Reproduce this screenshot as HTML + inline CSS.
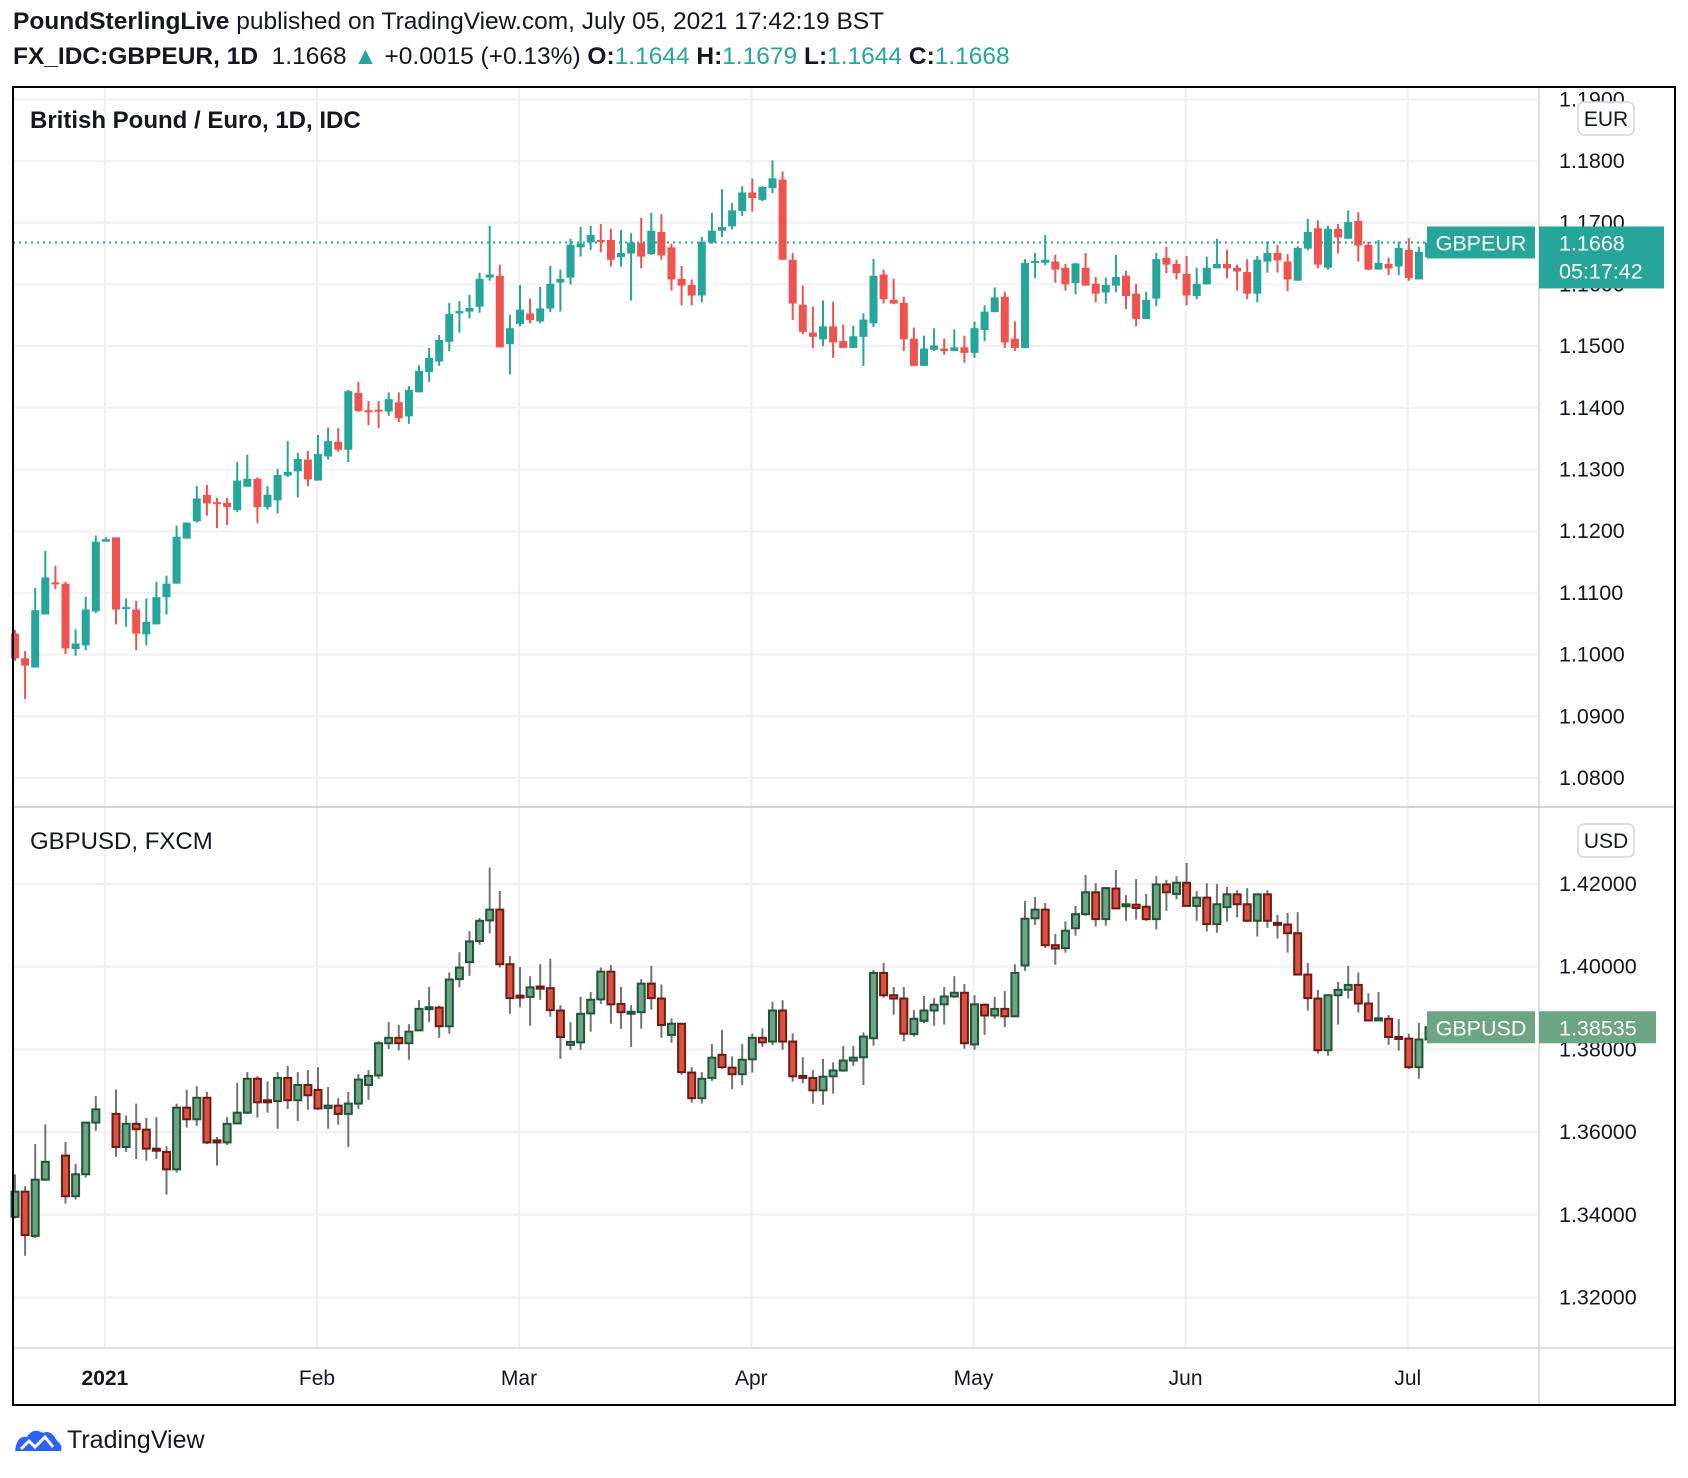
<!DOCTYPE html>
<html><head><meta charset="utf-8">
<style>
html,body{margin:0;padding:0;background:#fff;}
body{width:1688px;height:1478px;position:relative;overflow:hidden;font-family:"Liberation Sans",Arial,sans-serif;color:#131722;}
.hdr{position:absolute;left:13px;font-size:24.5px;white-space:nowrap;}
.t{color:#26a69a}
svg{position:absolute;left:0;top:0;}
</style></head><body>
<div class="hdr" style="top:8px"><b>PoundSterlingLive</b> published on TradingView.com, July 05, 2021 17:42:19 BST</div>
<div class="hdr" style="top:43px"><b>FX_IDC:GBPEUR, 1D</b>&nbsp; 1.1668 <span class="t">▲</span> +0.0015 (+0.13%) <b>O:</b><span class="t">1.1644</span> <b>H:</b><span class="t">1.1679</span> <b>L:</b><span class="t">1.1644</span> <b>C:</b><span class="t">1.1668</span></div>
<svg id="chart" width="1688" height="1478"></svg>
<div style="position:absolute;left:13px;top:1425px;font-size:25px;">
<svg width="50" height="30" style="position:relative;vertical-align:middle"><path d="M2 26 Q4 10 14 12 Q20 2 30 8 Q38 4 44 16 Q50 20 48 26 Z" fill="#2962ff"/><path d="M8 24 L16 16 L22 22 L32 12 L40 22" stroke="#fff" stroke-width="3" fill="none"/></svg><span style="margin-left:4px;vertical-align:middle">TradingView</span></div>
<script>
const eurOpen=[1.1034,1.0994,1.0979,1.1065,1.1117,1.1115,1.1009,1.1015,1.1070,1.1183,1.1190,1.1075,1.1073,1.1033,1.1049,1.1093,1.1115,1.1188,1.1216,1.1259,1.1247,1.1246,1.1234,1.1272,1.1285,1.1239,1.1250,1.1290,1.1297,1.1316,1.1282,1.1321,1.1345,1.1332,1.1424,1.1396,1.1397,1.1394,1.1409,1.1386,1.1425,1.1458,1.1475,1.1507,1.1553,1.1556,1.1564,
1.1611,1.1614,1.1503,1.1536,1.1553,1.1540,1.1561,1.1603,1.1611,1.1660,1.1668,1.1672,1.1672,1.1644,1.1650,1.1667,1.1649,1.1685,1.1660,1.1609,1.1599,1.1582,1.1668,1.1687,1.1694,1.1719,1.1749,1.1737,1.1756,1.1770,1.1640,1.1567,1.1522,1.1511,1.1532,1.1508,1.1497,1.1515,1.1537,1.1616,1.1575,1.1570,1.1512,1.1468,1.1494,1.1496,1.1492,1.1498,1.1489,1.1526,1.1555,1.1580,1.1512,1.1497,1.1635,1.1635,1.1637,1.1627,1.1602,1.1627,1.1601,1.1587,1.1598,1.1614,1.1585,1.1544,1.1577,1.1643,1.1633,1.1617,1.1581,1.1600,1.1626,1.1633,1.1627,1.1620,1.1585,1.1637,1.1651,1.1637,1.1606,1.1658,1.1691,1.1627,1.1690,1.1674,1.1703,1.1664,1.1624,1.1633,1.1629,1.1656,1.1608,1.1644];
const eurHigh=[1.1040,1.1006,1.1108,1.1168,1.1144,1.1118,1.1041,1.1094,1.1193,1.1190,1.1190,1.1091,1.1087,1.1091,1.1118,1.1128,1.1209,1.1214,1.1273,1.1275,1.1254,1.1254,1.1312,1.1324,1.1287,1.1273,1.1301,1.1346,1.1327,1.1330,1.1356,1.1368,1.1367,1.1429,1.1442,1.1411,1.1411,1.1425,1.1425,1.1435,1.1469,1.1497,1.1518,1.1570,1.1573,1.1583,1.1619,
1.1695,1.1632,1.1551,1.1599,1.1577,1.1596,1.1630,1.1624,1.1674,1.1693,1.1695,1.1698,1.1690,1.1688,1.1683,1.1708,1.1716,1.1714,1.1666,1.1630,1.1608,1.1677,1.1716,1.1754,1.1732,1.1759,1.1772,1.1759,1.1801,1.1783,1.1651,1.1598,1.1564,1.1574,1.1572,1.1535,1.1533,1.1553,1.1641,1.1624,1.1609,1.1580,1.1530,1.1517,1.1529,1.1512,1.1527,1.1517,1.1540,1.1566,1.1595,1.1588,1.1540,1.1641,1.1651,1.1680,1.1648,1.1633,1.1635,1.1651,1.1612,1.1611,1.1648,1.1622,1.1601,1.1588,1.1651,1.1661,1.1640,1.1646,1.1627,1.1645,1.1674,1.1656,1.1632,1.1641,1.1646,1.1670,1.1664,1.1649,1.1662,1.1706,1.1704,1.1695,1.1698,1.1720,1.1717,1.1669,1.1672,1.1643,1.1669,1.1675,1.1661,1.1679];
const eurLow=[1.0990,1.0928,1.0979,1.1065,1.1106,1.1001,1.0998,1.1007,1.1067,1.1183,1.1049,1.1045,1.1007,1.1015,1.1049,1.1065,1.1115,1.1188,1.1214,1.1225,1.1205,1.1210,1.1231,1.1272,1.1213,1.1235,1.1229,1.1288,1.1255,1.1273,1.1282,1.1316,1.1329,1.1312,1.1393,1.1372,1.1367,1.1387,1.1377,1.1374,1.1425,1.1442,1.1468,1.1492,1.1522,1.1545,1.1554,
1.1606,1.1498,1.1454,1.1532,1.1537,1.1537,1.1555,1.1556,1.1600,1.1645,1.1656,1.1652,1.1629,1.1629,1.1574,1.1626,1.1648,1.1640,1.1590,1.1566,1.1566,1.1571,1.1666,1.1677,1.1689,1.1711,1.1718,1.1735,1.1748,1.1640,1.1542,1.1519,1.1497,1.1500,1.1481,1.1497,1.1497,1.1468,1.1531,1.1569,1.1568,1.1492,1.1468,1.1468,1.1492,1.1486,1.1492,1.1473,1.1481,1.1508,1.1555,1.1497,1.1492,1.1497,1.1610,1.1631,1.1603,1.1590,1.1584,1.1598,1.1571,1.1569,1.1587,1.1560,1.1532,1.1544,1.1565,1.1618,1.1608,1.1566,1.1576,1.1600,1.1626,1.1610,1.1590,1.1576,1.1571,1.1619,1.1619,1.1589,1.1606,1.1655,1.1626,1.1624,1.1650,1.1674,1.1637,1.1623,1.1624,1.1615,1.1615,1.1606,1.1608,1.1644];
const eurClose=[1.0994,1.0982,1.1072,1.1125,1.1114,1.1010,1.1018,1.1073,1.1183,1.1187,1.1073,1.1077,1.1034,1.1053,1.1093,1.1115,1.1191,1.1214,1.1253,1.1245,1.1244,1.1239,1.1282,1.1285,1.1239,1.1259,1.1291,1.1296,1.1317,1.1284,1.1325,1.1346,1.1332,1.1427,1.1395,1.1393,1.1394,1.1414,1.1383,1.1429,1.1460,1.1481,1.1510,1.1552,1.1557,1.1562,1.1609,
1.1616,1.1498,1.1529,1.1559,1.1542,1.1561,1.1601,1.1609,1.1664,1.1666,1.1680,1.1669,1.1640,1.1651,1.1668,1.1645,1.1687,1.1647,1.1608,1.1598,1.1582,1.1669,1.1687,1.1693,1.1720,1.1749,1.1740,1.1758,1.1772,1.1640,1.1569,1.1523,1.1515,1.1532,1.1506,1.1497,1.1516,1.1543,1.1614,1.1576,1.1569,1.1511,1.1468,1.1496,1.1501,1.1492,1.1498,1.1489,1.1529,1.1556,1.1579,1.1506,1.1497,1.1635,1.1638,1.1640,1.1624,1.1600,1.1634,1.1598,1.1585,1.1599,1.1612,1.1581,1.1544,1.1575,1.1641,1.1632,1.1618,1.1582,1.1601,1.1627,1.1633,1.1626,1.1621,1.1585,1.1640,1.1651,1.1639,1.1608,1.1659,1.1685,1.1632,1.1690,1.1676,1.1701,1.1663,1.1624,1.1635,1.1626,1.1659,1.1610,1.1653,1.1668];
const usdOpen=[1.3395,1.3456,1.3349,1.3485,null,1.3543,1.3445,1.3498,1.3623,null,1.3644,1.3564,1.3620,1.3606,1.3560,1.3552,1.3510,1.3659,1.3631,1.3683,1.3580,1.3575,1.3621,1.3647,1.3729,1.3677,1.3675,1.3731,1.3677,1.3714,1.3702,1.3658,1.3664,1.3644,1.3669,1.3714,1.3737,1.3815,1.3828,1.3815,1.3846,1.3899,1.3901,1.3856,1.3970,1.4011,1.4062,1.4112,1.4138,1.4006,1.3930,1.3927,1.3952,1.3948,1.3894,1.3811,1.3817,1.3887,1.3921,1.3988,1.3910,1.3888,1.3890,1.3959,1.3923,1.3835,1.3862,1.3744,1.3682,1.3731,1.3787,1.3756,1.3740,1.3776,1.3828,1.3819,1.3894,1.3819,1.3736,1.3731,1.3701,1.3735,1.3749,1.3773,1.3781,1.3827,1.3985,1.3931,1.3923,1.3837,1.3869,1.3894,1.3909,1.3928,1.3937,1.3812,1.3908,1.3882,1.3898,1.3880,1.4003,1.4117,1.4138,1.4052,1.4045,1.4093,1.4127,1.4180,1.4115,1.4189,1.4146,1.4150,1.4145,1.4115,1.4199,1.4176,1.4203,1.4147,1.4167,1.4103,1.4144,1.4175,1.4151,1.4111,1.4175,1.4106,1.4102,1.4081,1.3981,1.3923,1.3798,1.3931,1.3944,1.3956,1.3911,1.3871,1.3874,1.3830,1.3826,1.3757,1.3824];
const usdHigh=[1.3498,1.3469,1.3571,1.3619,null,1.3576,1.3523,1.3623,1.3687,null,1.3703,1.3640,1.3669,1.3634,1.3636,1.3566,1.3669,1.3702,1.3711,1.3697,1.3588,1.3636,1.3719,1.3745,1.3735,1.3723,1.3745,1.3760,1.3745,1.3750,1.3757,1.3709,1.3682,1.3697,1.3740,1.3750,1.3820,1.3866,1.3859,1.3861,1.3919,1.3951,1.3906,1.3986,1.4035,1.4086,1.4118,1.4240,1.4183,1.4026,1.3999,1.3977,1.4006,1.4019,1.3907,1.3866,1.3927,1.3939,1.3998,1.4004,1.3951,1.3907,1.3970,1.4002,1.3957,1.3875,1.3862,1.3757,1.3745,1.3813,1.3847,1.3783,1.3813,1.3838,1.3851,1.3915,1.3919,1.3839,1.3781,1.3750,1.3777,1.3769,1.3808,1.3808,1.3841,1.3992,1.4009,1.3951,1.3951,1.3895,1.3929,1.3924,1.3951,1.3977,1.3958,1.3931,1.3911,1.3927,1.3941,1.4006,1.4159,1.4169,1.4154,1.4079,1.4110,1.4147,1.4222,1.4202,1.4193,1.4234,1.4173,1.4212,1.4176,1.4219,1.4210,1.4219,1.4251,1.4183,1.4202,1.4200,1.4193,1.4185,1.4190,1.4177,1.4185,1.4125,1.4130,1.4132,1.4009,1.3944,1.3933,1.3963,1.4002,1.3986,1.3936,1.3939,1.3883,1.3873,1.3838,1.3864,1.3870];
const usdLow=[1.3391,1.3301,1.3344,1.3482,null,1.3427,1.3437,1.3490,1.3603,null,1.3540,1.3552,1.3535,1.3531,1.3535,1.3449,1.3502,1.3611,1.3615,1.3571,1.3519,1.3569,1.3621,1.3644,1.3635,1.3647,1.3608,1.3656,1.3627,1.3654,1.3654,1.3608,1.3618,1.3564,1.3656,1.3678,1.3729,1.3801,1.3798,1.3775,1.3846,1.3866,1.3828,1.3838,1.3950,1.3978,1.4053,1.4080,1.3998,1.3886,1.3902,1.3857,1.3920,1.3879,1.3777,1.3799,1.3799,1.3843,1.3910,1.3862,1.3850,1.3806,1.3850,1.3896,1.3828,1.3816,1.3739,1.3671,1.3669,1.3724,1.3753,1.3704,1.3714,1.3744,1.3806,1.3810,1.3799,1.3722,1.3718,1.3669,1.3666,1.3693,1.3746,1.3760,1.3714,1.3809,1.3925,1.3884,1.3820,1.3831,1.3863,1.3857,1.3860,1.3925,1.3802,1.3799,1.3835,1.3874,1.3854,1.3880,1.3990,1.4101,1.4045,1.4005,1.4034,1.4075,1.4123,1.4097,1.4099,1.4141,1.4111,1.4114,1.4111,1.4090,1.4135,1.4163,1.4147,1.4111,1.4085,1.4082,1.4109,1.4119,1.4109,1.4073,1.4094,1.4068,1.4034,1.3981,1.3894,1.3790,1.3785,1.3860,1.3923,1.3889,1.3870,1.3871,1.3811,1.3797,1.3752,1.3729,1.3815];
const usdClose=[1.3456,1.3351,1.3485,1.3528,null,1.3445,1.3498,1.3623,1.3655,null,1.3564,1.3620,1.3607,1.3560,1.3555,1.3510,1.3659,1.3631,1.3683,1.3575,1.3575,1.3620,1.3647,1.3729,1.3672,1.3672,1.3731,1.3677,1.3714,1.3689,1.3657,1.3664,1.3644,1.3669,1.3727,1.3736,1.3815,1.3828,1.3815,1.3843,1.3898,1.3902,1.3856,1.3969,1.3998,1.4061,1.4111,1.4138,1.4006,1.3924,1.3926,1.3950,1.3947,1.3895,1.3830,1.3818,1.3886,1.3920,1.3988,1.3909,1.3890,1.3891,1.3959,1.3924,1.3859,1.3862,1.3745,1.3682,1.3729,1.3780,1.3757,1.3740,1.3775,1.3828,1.3817,1.3894,1.3819,1.3735,1.3731,1.3701,1.3734,1.3749,1.3773,1.3780,1.3831,1.3985,1.3931,1.3923,1.3838,1.3874,1.3894,1.3908,1.3928,1.3937,1.3815,1.3909,1.3882,1.3898,1.3880,1.3985,1.4116,1.4138,1.4052,1.4044,1.4087,1.4127,1.4180,1.4115,1.4190,1.4141,1.4151,1.4142,1.4115,1.4199,1.4180,1.4203,1.4147,1.4167,1.4103,1.4151,1.4175,1.4151,1.4111,1.4175,1.4111,1.4102,1.4081,1.3981,1.3924,1.3798,1.3931,1.3944,1.3956,1.3911,1.3870,1.3875,1.3830,1.3826,1.3757,1.3824,1.38535];
const eurTicks=[1.19,1.18,1.17,1.16,1.15,1.14,1.13,1.12,1.11,1.10,1.09,1.08];
const usdTicks=[1.42,1.40,1.38,1.36,1.34,1.32];
const monthLabels=["2021","Feb","Mar","Apr","May","Jun","Jul"];
const monthBarIndex=[8.9,29.9,49.9,72.9,94.9,115.9,137.9];
const eurLast=1.1668, usdLast=1.38535;

const NS="http://www.w3.org/2000/svg";
const svg=document.getElementById('chart');
const L=13,R=1675,T=87,B=1405,AX=1539,DIV=807,TA=1348;
const xOf=i=>15+i*10.1;
const yEur=p=>161+(1.18-p)*6170;
const yUsd=p=>884+(1.42-p)*4135;
function el(tag,attrs,parent){const e=document.createElementNS(NS,tag);for(const k in attrs)e.setAttribute(k,attrs[k]);(parent||svg).appendChild(e);return e;}
function txt(s,x,y,attrs){const t=el('text',Object.assign({x:x,y:y,'font-family':'Liberation Sans, Arial, sans-serif','font-size':21.5,fill:'#131722'},attrs));t.textContent=s;return t;}

const grid=el('g',{});


monthBarIndex.forEach(b=>{const g=el('line',{x1:xOf(b),x2:xOf(b),y1:T,y2:TA,stroke:'#f0f0f0','stroke-width':2},grid);});
eurTicks.forEach(p=>{const g=el('line',{x1:L,x2:AX,y1:yEur(p),y2:yEur(p),stroke:'#f0f0f0','stroke-width':2},grid);});
usdTicks.forEach(p=>{const g=el('line',{x1:L,x2:AX,y1:yUsd(p),y2:yUsd(p),stroke:'#f0f0f0','stroke-width':2},grid);});

const dl=el('line',{x1:L,x2:1427,y1:yEur(eurLast),y2:yEur(eurLast),stroke:'#26a69a','stroke-width':2,'stroke-dasharray':'2 4'});



function candles(O,H,Lo,C,yf,up,dn,wickCol,upB,dnB,name){
  const g=el('g',{});
  
  
  for(let i=0;i<O.length;i++){
    if(O[i]==null)continue;
    const x=xOf(i),isUp=C[i]>=O[i];
    const w=el('line',{x1:x,x2:x,y1:yf(H[i]),y2:yf(Lo[i]),stroke:wickCol?wickCol:(isUp?up:dn),'stroke-width':2},g);
    
    
    const top=yf(Math.max(O[i],C[i])),bot=yf(Math.min(O[i],C[i]));
    const h=Math.max(bot-top,2);
    const r=el('rect',{x:x-4,y:top,width:8,height:h,fill:isUp?up:dn},g);
    if(upB){r.setAttribute('stroke',isUp?upB:dnB);r.setAttribute('stroke-width',2);r.setAttribute('x',x-3.5);r.setAttribute('width',7);}
    
    
  }
}
candles(eurOpen,eurHigh,eurLow,eurClose,yEur,'#26a69a','#ef5350',null,null,null,'gbpeur-candles');
candles(usdOpen,usdHigh,usdLow,usdClose,yUsd,'#6ba583','#d75442','#737375','#225437','#6f1a14','gbpusd-candles');

el('rect',{x:AX,y:T,width:R-AX,height:TA-T,fill:'#fff'});
el('rect',{x:L,y:TA,width:R-L,height:B-TA,fill:'#fff'});

el('line',{x1:L,x2:R,y1:DIV,y2:DIV,stroke:'#d1d4dc','stroke-width':2});
el('line',{x1:AX,x2:AX,y1:T,y2:B,stroke:'#d1d4dc','stroke-width':1.5});
el('line',{x1:L,x2:R,y1:TA,y2:TA,stroke:'#d1d4dc','stroke-width':1.5});
const fr=el('rect',{x:L,y:T,width:R-L,height:B-T,fill:'none',stroke:'#000','stroke-width':2});



eurTicks.forEach(p=>{const t=txt(p.toFixed(4),1559,yEur(p)+7);});
usdTicks.forEach(p=>{const t=txt(p.toFixed(5),1559,yUsd(p)+7);});
monthLabels.forEach((m,k)=>{const t=txt(m,xOf(monthBarIndex[k]),1385,{'text-anchor':'middle','font-size':21,'font-weight':k==0?'bold':'normal'});});

const t1=txt('British Pound / Euro, 1D, IDC',30,128,{'font-weight':'bold','font-size':24});


const t2=txt('GBPUSD, FXCM',30,849,{'font-size':24});



function curBox(s,y,name){const b=el('rect',{x:1578,y:y,width:56,height:33,rx:6,fill:'#fff',stroke:'#d1d4dc','stroke-width':1.5});const t=txt(s,1606,y+24,{'text-anchor':'middle','font-size':21});}
curBox('EUR',102,'eur-currency-box');
curBox('USD',824,'usd-currency-box');

const ey=yEur(eurLast);
const e1=el('rect',{x:1427,y:ey-16,width:108,height:32,fill:'#26a69a'});


txt('GBPEUR',1481,ey+8,{'text-anchor':'middle',fill:'#fff'});
const e2=el('rect',{x:1539,y:ey-16,width:125,height:62,fill:'#26a69a'});


txt(eurLast.toFixed(4),1559,ey+8,{fill:'#fff'});
txt('05:17:42',1559,ey+36,{fill:'#fff'});
const uy=yUsd(usdLast);
const u1=el('rect',{x:1427,y:uy-16,width:108,height:32,fill:'#6ba583'});


txt('GBPUSD',1481,uy+8,{'text-anchor':'middle',fill:'#fff'});
const u2=el('rect',{x:1539,y:uy-16,width:117,height:32,fill:'#6ba583'});


txt(usdLast.toFixed(5),1559,uy+8,{fill:'#fff'});
</script>
</body></html>
